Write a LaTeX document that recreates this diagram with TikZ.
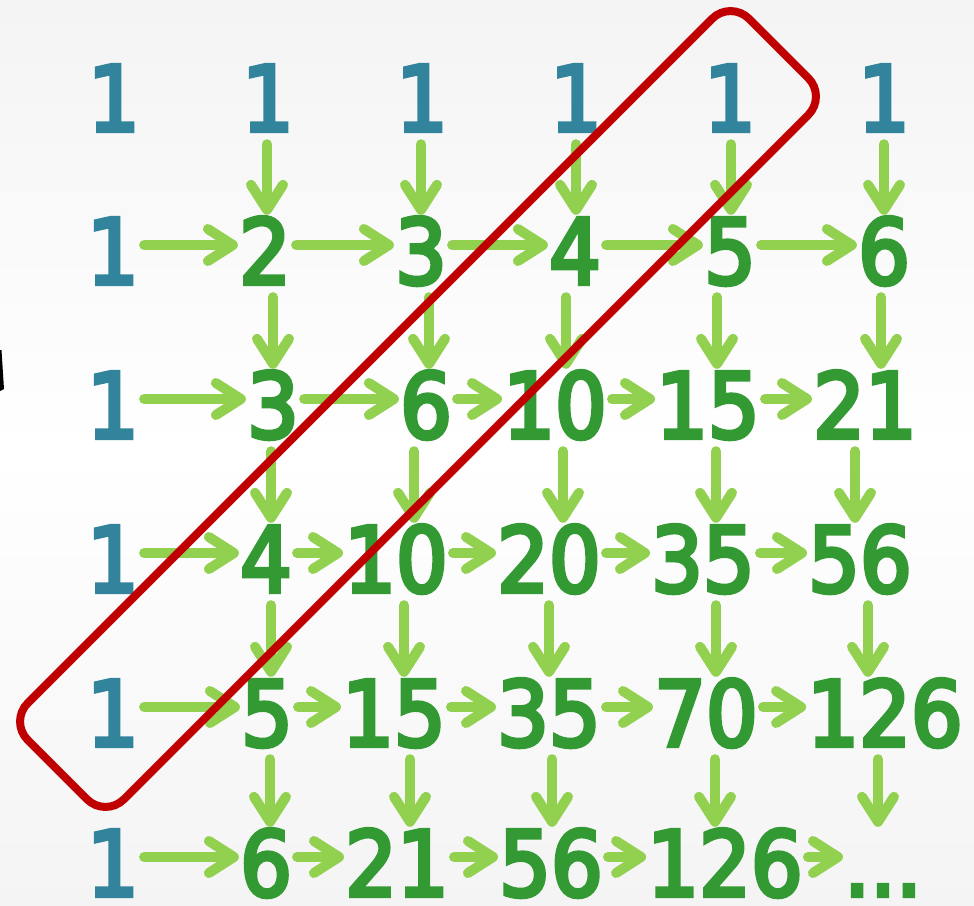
\documentclass[tikz,border=0pt]{standalone}
\usepackage{fontspec}
\newfontfamily\numfont{DejaVu Sans}[FakeStretch=0.9,BoldFont=DejaVu Sans,BoldFeatures={FakeBold=4.5}]
\usetikzlibrary{arrows.meta,calc}
\definecolor{tealone}{HTML}{31849B}
\definecolor{grn}{HTML}{339933}
\definecolor{arrg}{HTML}{92D050}
\definecolor{redb}{HTML}{C00000}
\definecolor{bgg}{HTML}{F4F4F4}
\newcommand\harr[2]{\draw[arr, shorten <=5pt, shorten >=1pt] ([yshift=6pt]#1.east) -- ([yshift=6pt]#2.west);}
\newcommand\varr[3]{\path ($(#1.south)+(#3,0)$) coordinate (vs); \draw[arr, shorten <=13pt, shorten >=3pt] (vs) -- (vs |- #2.north);}
\begin{document}
\begin{tikzpicture}[x=1pt,y=-1pt,
  num/.style={inner sep=0pt, text height=66pt, text depth=0pt, anchor=base, font=\numfont\bfseries\fontsize{90.5}{95}\selectfont},
  one/.style={num, text=tealone},
  val/.style={num, text=grn},
  arr/.style={draw=arrg, line width=10pt, line cap=round, -{Straight Barb[length=25pt,width=32pt,round]}},
 ]
\shade[top color=bgg, bottom color=bgg, middle color=white] (0,0) rectangle (974,905);
\useasboundingbox (0,0) rectangle (974,905);
% row 1
\node[one] (n10) at (114,131) {1};
\node[one] (n11) at (268,131) {1};
\node[one] (n12) at (422,131) {1};
\node[one] (n13) at (576,131) {1};
\node[one] (n14) at (730,131) {1};
\node[one] (n15) at (884,131) {1};
% row 2
\node[one] (n20) at (113,284) {1};
\node[val] (n21) at (265,284) {2};
\node[val] (n22) at (421,284) {3};
\node[val] (n23) at (575,284) {4};
\node[val] (n24) at (730,284) {5};
\node[val] (n25) at (884,284) {6};
% row 3
\node[one] (n30) at (113,438) {1};
\node[val] (n31) at (273,438) {3};
\node[val] (n32) at (426,438) {6};
\node[val] (n33) at (555,438) {10};
\node[val] (n34) at (708,438) {15};
\node[val] (n35) at (865,438) {21};
% row 4
\node[one] (n40) at (113,592) {1};
\node[val] (n41) at (266,592) {4};
\node[val] (n42) at (396,592) {10};
\node[val] (n43) at (549,592) {20};
\node[val] (n44) at (703,592) {35};
\node[val] (n45) at (860,592) {56};
% row 5
\node[one] (n50) at (113,746) {1};
\node[val] (n51) at (267,746) {5};
\node[val] (n52) at (394,746) {15};
\node[val] (n53) at (549,746) {35};
\node[val] (n54) at (706,746) {70};
\node[val] (n55) at (885,746) {126};
% row 6
\node[one] (n60) at (113,896) {1};
\node[val] (n61) at (266,896) {6};
\node[val] (n62) at (397,896) {21};
\node[val] (n63) at (551,896) {56};
\node[val] (n64) at (725,896) {126};
\node[val] (n65) at (883,896) {...};
% horizontal arrows
\foreach \r in {2,...,6}{
  \harr{n\r0}{n\r1}\harr{n\r1}{n\r2}\harr{n\r2}{n\r3}\harr{n\r3}{n\r4}\harr{n\r4}{n\r5}
}
% vertical arrows
\varr{n11}{n21}{-1}\varr{n12}{n22}{-1}\varr{n13}{n23}{0}\varr{n14}{n24}{1}\varr{n15}{n25}{0}
\varr{n21}{n31}{8}\varr{n22}{n32}{8}\varr{n23}{n33}{-9}\varr{n24}{n34}{-13}\varr{n25}{n35}{-3}
\varr{n31}{n41}{-2}\varr{n32}{n42}{-12}\varr{n33}{n43}{8}\varr{n34}{n44}{8}\varr{n35}{n45}{-10}
\varr{n41}{n51}{5}\varr{n42}{n52}{8}\varr{n43}{n53}{0}\varr{n44}{n54}{13}\varr{n45}{n55}{8}
\varr{n51}{n61}{3}\varr{n52}{n62}{16}\varr{n53}{n63}{3}\varr{n54}{n64}{9}\varr{n55}{n65}{-7}
% black wedge at the left edge
\fill[black] (0,350) -- (1.5,350) -- (4,389) -- (0,391) -- cycle;
% red rounded frame
\draw[redb, line width=8pt, rounded corners=26pt, shift={(418,409)}, rotate=45] (-510,-68) rectangle (510,68);
\end{tikzpicture}
\end{document}
